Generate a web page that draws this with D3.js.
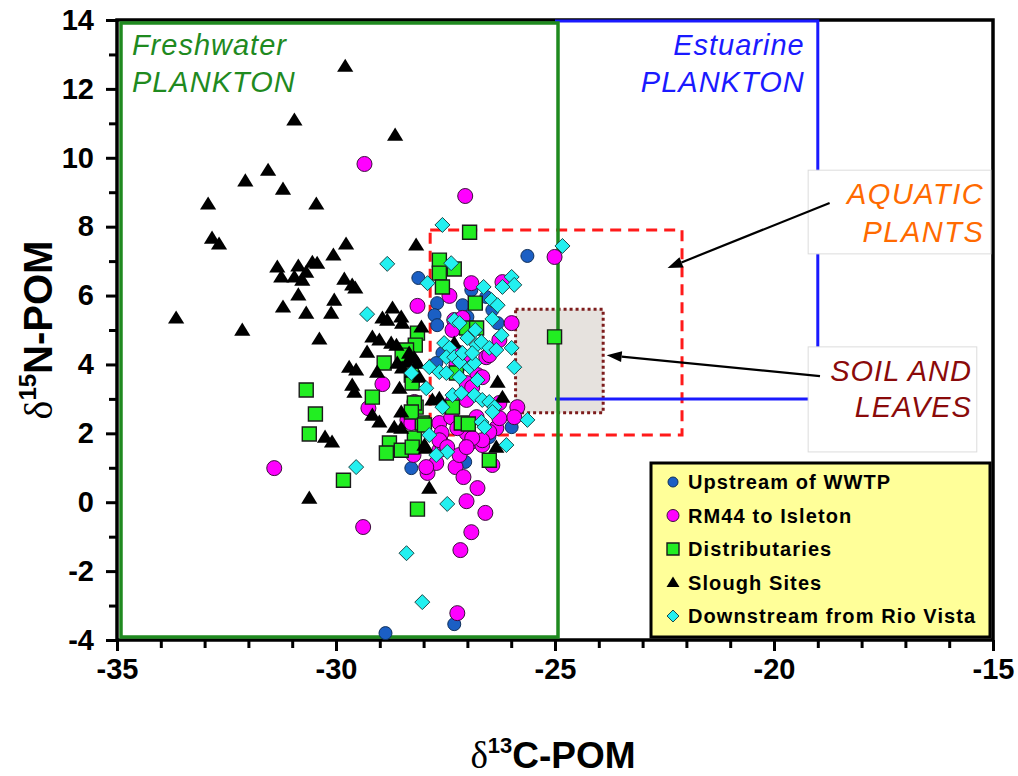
<!DOCTYPE html>
<html>
<head>
<meta charset="utf-8">
<script src="https://cdn.jsdelivr.net/npm/d3@7"></script>
<style>
  html, body { margin: 0; padding: 0; background: #ffffff; }
  svg { display: block; }
  text { font-family: "Liberation Sans", Arial, sans-serif; }
</style>
</head>
<body>
<svg id="chart" width="1018" height="776"></svg>
<script>
// Stable isotope signatures of particulate organic matter (d13C, d15N)

const seriesNames = ["Upstream of WWTP", "RM44 to Isleton", "Distributaries", "Slough Sites", "Downstream from Rio Vista"];

const upstreamWWTP = [
  [-25.63, 7.15], [-26.91, 6.16], [-27.11, 5.72], [-26.57, 5.96], [-26.43, 5.58],
  [-27.00, 5.38], [-28.12, 6.51], [-27.69, 5.78], [-27.75, 5.43], [-27.69, 5.14],
  [-27.57, 4.33], [-27.71, 4.04], [-26.50, 1.89], [-25.99, 2.18], [-26.31, 5.20],
  [-28.28, 0.99], [-27.05, 1.17], [-27.30, -3.54], [-28.87, -3.80]
];

const rm44Isleton = [
  [-29.35, 9.82], [-27.05, 8.89], [-25.01, 7.12], [-31.41, 0.99], [-27.91, 0.85],
  [-27.27, 1.02], [-27.09, 0.73], [-26.77, 0.41], [-27.02, 0.03], [-26.59, -0.31],
  [-29.38, -0.72], [-26.91, -0.87], [-27.16, -1.39], [-27.23, -3.22], [-28.23, 1.37],
  [-27.64, 1.51], [-27.59, 1.72], [-26.95, 1.72], [-26.66, 1.66], [-26.43, 1.08],
  [-28.14, 5.70], [-26.91, 6.36], [-27.41, 5.99], [-26.20, 6.39], [-25.99, 5.20],
  [-27.27, 5.09], [-26.57, 4.21], [-28.94, 3.43], [-29.26, 2.73], [-28.21, 2.91],
  [-26.77, 3.69], [-25.86, 2.76], [-25.93, 2.47], [-26.34, 2.15], [-28.37, 2.39],
  [-28.28, 2.30], [-27.64, 2.30], [-27.59, 2.01], [-27.02, 2.01], [-27.37, 2.47],
  [-26.79, 2.47], [-26.27, 2.44], [-26.66, 3.63], [-27.02, 3.46], [-26.89, 3.34],
  [-26.27, 2.88], [-26.50, 2.04], [-26.66, 1.80], [-26.89, 1.86], [-27.64, 1.80],
  [-27.46, 1.60], [-27.23, 2.15], [-27.18, 1.37], [-27.02, 1.60], [-27.71, 1.14],
  [-27.94, 1.02], [-27.25, 3.98], [-27.00, 4.04], [-27.18, 4.33], [-27.34, 2.91],
  [-27.02, 2.97], [-26.27, 4.71], [-26.50, 4.27], [-27.30, 5.29], [-27.11, 5.35],
  [-27.34, 5.00]
];

const distributaries = [
  [-26.95, 7.84], [-27.64, 7.03], [-27.30, 6.77], [-27.64, 6.65], [-27.57, 6.25],
  [-26.82, 5.78], [-28.14, 4.91], [-28.19, 4.56], [-28.39, 4.42], [-28.49, 4.27],
  [-28.90, 4.04], [-28.28, 3.69], [-28.26, 3.46], [-27.02, 5.06], [-26.79, 5.06],
  [-27.25, 3.75], [-29.17, 3.05], [-28.17, 2.76], [-27.34, 2.76], [-27.14, 2.30],
  [-26.98, 2.27], [-28.03, 2.30], [-28.78, 1.72], [-28.51, 1.51], [-28.85, 1.43],
  [-28.21, 1.86], [-28.26, 1.60], [-25.01, 4.80], [-26.50, 1.22], [-28.21, 2.88],
  [-28.28, 2.62], [-27.98, 2.24], [-30.68, 3.26], [-30.47, 2.56], [-30.61, 1.98],
  [-29.83, 0.64], [-28.14, -0.20]
];

const sloughSites = [
  [-31.55, 9.64], [-32.07, 9.33], [-31.21, 9.09], [-32.92, 8.66], [-30.45, 8.66],
  [-32.83, 7.67], [-32.67, 7.50], [-29.77, 7.50], [-30.06, 7.18], [-31.34, 6.83],
  [-30.86, 6.86], [-30.54, 6.97], [-30.43, 6.94], [-31.25, 6.54], [-30.95, 6.54],
  [-30.77, 6.45], [-30.68, 6.68], [-29.81, 6.48], [-30.86, 6.02], [-30.04, 5.87],
  [-31.21, 5.67], [-30.68, 5.49], [-30.11, 5.49], [-33.65, 5.35], [-32.14, 5.00],
  [-30.38, 4.74], [-29.79, 12.66], [-30.95, 11.10], [-28.65, 10.66], [-28.17, 7.47],
  [-29.63, 6.31], [-29.56, 6.22], [-28.71, 5.64], [-28.94, 5.35], [-28.83, 5.29],
  [-28.51, 5.38], [-28.49, 5.20], [-29.17, 4.80], [-29.01, 4.71], [-29.29, 4.36],
  [-28.74, 4.62], [-28.62, 4.56], [-28.05, 5.09], [-28.33, 4.33], [-28.21, 4.19],
  [-28.37, 4.07], [-28.14, 4.04], [-29.70, 3.92], [-29.54, 3.84], [-28.60, 4.04],
  [-28.49, 3.90], [-29.06, 3.78], [-28.26, 3.78], [-28.10, 3.63], [-27.30, 4.62],
  [-29.63, 3.40], [-29.58, 3.20], [-28.55, 3.31], [-26.31, 3.49], [-26.20, 3.05],
  [-27.64, 3.02], [-27.80, 2.97], [-29.17, 2.53], [-29.01, 2.33], [-28.51, 2.62],
  [-28.67, 2.18], [-28.51, 2.15], [-27.98, 1.66], [-30.09, 1.75], [-26.34, 1.60],
  [-30.25, 1.89], [-27.94, 1.57], [-27.87, 0.41], [-30.61, 0.12]
];

const downstreamRioVista = [
  [-27.57, 8.05], [-24.83, 7.44], [-28.83, 6.92], [-27.37, 6.94], [-27.91, 6.36],
  [-26.63, 6.25], [-25.99, 6.54], [-25.93, 6.31], [-26.20, 6.25], [-26.45, 5.87],
  [-26.31, 5.72], [-26.43, 5.32], [-29.29, 5.46], [-27.30, 5.29], [-27.18, 5.20],
  [-26.82, 5.00], [-26.22, 4.85], [-27.00, 4.77], [-27.53, 4.62], [-27.41, 4.48],
  [-26.79, 4.56], [-26.68, 4.65], [-26.50, 4.48], [-26.34, 4.42], [-25.99, 4.48],
  [-25.93, 3.92], [-27.87, 3.92], [-27.48, 4.21], [-27.30, 4.21], [-27.18, 4.07],
  [-27.64, 3.78], [-27.48, 3.75], [-27.18, 3.63], [-26.95, 3.92], [-26.84, 4.04],
  [-28.28, 3.75], [-27.94, 3.31], [-26.77, 3.55], [-27.34, 3.11], [-27.14, 3.17],
  [-26.84, 3.11], [-26.66, 2.97], [-26.50, 2.91], [-26.38, 2.76], [-26.43, 2.62],
  [-27.57, 2.76], [-25.63, 2.39], [-26.68, 2.33], [-27.87, 1.95], [-26.11, 1.66],
  [-27.46, 1.46], [-27.71, 1.37], [-29.54, 1.02], [-27.46, -0.05], [-28.39, -1.48],
  [-28.03, -2.90], [-27.11, 4.33], [-26.89, 4.33], [-26.61, 2.18]
];

// Axis ranges and labelled ticks
const xDomain = [-35, -15];
const yDomain = [-4, 14];
const xTickLabels = [-35, -30, -25, -20, -15];
const yTickLabels = [-4, -2, 0, 2, 4, 6, 8, 10, 12, 14];

// End-member source boxes (d13C range, d15N range)
const freshwaterBox = { x: [-35, -25], y: [-4, 14] };
const estuarineBox = { x: [-25, -19], y: [3, 14] };
const aquaticBox = { x: [-27.85, -22.1], y: [1.95, 7.9] };
const soilBox = { x: [-25.9, -23.9], y: [2.6, 5.6] };

const svg = d3.select("#chart");
const L = 117, R = 993, T = 20, B = 640;
const x = d3.scaleLinear().domain(xDomain).range([L, R]);
const y = d3.scaleLinear().domain(yDomain).range([B, T]);

// Soil and leaves: grey fill with dotted maroon border
svg.append("rect")
  .attr("x", x(soilBox.x[0])).attr("y", y(soilBox.y[1]))
  .attr("width", x(soilBox.x[1]) - x(soilBox.x[0]))
  .attr("height", y(soilBox.y[0]) - y(soilBox.y[1]))
  .attr("fill", "#e6e2de").attr("stroke", "#7d1c1c")
  .attr("stroke-width", 3).attr("stroke-dasharray", "3,3");

// Aquatic plants: red dashed outline
svg.append("rect")
  .attr("x", x(aquaticBox.x[0])).attr("y", y(aquaticBox.y[1]))
  .attr("width", x(aquaticBox.x[1]) - x(aquaticBox.x[0]))
  .attr("height", y(aquaticBox.y[0]) - y(aquaticBox.y[1]))
  .attr("fill", "none").attr("stroke", "#ff1a1a")
  .attr("stroke-width", 3).attr("stroke-dasharray", "11,7");

// Plot frame and axes
svg.append("rect")
  .attr("x", L).attr("y", T).attr("width", R - L).attr("height", B - T)
  .attr("fill", "none").attr("stroke", "#000").attr("stroke-width", 3.5);

const xAxis = d3.axisBottom(x)
  .tickValues(d3.range(xDomain[0], xDomain[1] + 1, 1))
  .tickSize(8).tickPadding(10)
  .tickFormat(d => xTickLabels.includes(d) ? d : "");
const gx = svg.append("g").attr("transform", `translate(0,${B})`).call(xAxis);

const yAxis = d3.axisLeft(y)
  .tickValues(d3.range(yDomain[0], yDomain[1] + 1, 1))
  .tickSize(8).tickPadding(15)
  .tickFormat(d => yTickLabels.includes(d) ? d : "");
const gy = svg.append("g").attr("transform", `translate(${L},0)`).call(yAxis);

[gx, gy].forEach(g => {
  g.select(".domain").remove();
  g.selectAll(".tick line").attr("stroke", "#000").attr("stroke-width", 3);
  g.selectAll(".tick text")
    .attr("fill", "#000")
    .style("font-family", "'Liberation Sans', Arial, sans-serif")
    .style("font-weight", "bold").style("font-size", "29px");
});
gx.selectAll(".tick line").attr("y2", d => d % 5 === 0 ? 11 : 8);
gy.selectAll(".tick line").attr("x2", d => d % 2 === 0 ? -11 : -8);

// Estuarine plankton box (left side is shared with the freshwater box)
const blue = "#1a1aff";
svg.append("path")
  .attr("d", `M${x(estuarineBox.x[0])},${y(estuarineBox.y[1]) + 1}` +
             `H${x(estuarineBox.x[1])}V${y(estuarineBox.y[0])}H${x(estuarineBox.x[0])}`)
  .attr("fill", "none").attr("stroke", blue).attr("stroke-width", 3);

// Freshwater plankton box
const green = "#1f8a1f";
svg.append("rect")
  .attr("x", x(freshwaterBox.x[0]) + 4).attr("y", y(freshwaterBox.y[1]) + 3)
  .attr("width", x(freshwaterBox.x[1]) - x(freshwaterBox.x[0]) - 1)
  .attr("height", y(freshwaterBox.y[0]) - y(freshwaterBox.y[1]) - 6)
  .attr("fill", "none").attr("stroke", green).attr("stroke-width", 3.5);

// Marker shapes
const shapes = {
  circleS: r => `M${-r},0a${r},${r} 0 1,0 ${2 * r},0a${r},${r} 0 1,0 ${-2 * r},0Z`,
  square: s => `M${-s},${-s}H${s}V${s}H${-s}Z`,
  triangle: s => `M0,${-s}L${s * 1.08},${s * 0.75}H${-s * 1.08}Z`,
  diamond: s => `M0,${-s}L${s},0L0,${s}L${-s},0Z`
};

const styles = [
  { data: upstreamWWTP, path: shapes.circleS(6.5), fill: "#1b5fc4", stroke: "#10305a", sw: 1,
    legend: shapes.circleS(5) },
  { data: rm44Isleton, path: shapes.circleS(7.5), fill: "#ff00ff", stroke: "#3a103a", sw: 1,
    legend: shapes.circleS(6) },
  { data: distributaries, path: shapes.square(7), fill: "#22ee22", stroke: "#1b1b1b", sw: 1.4,
    legend: shapes.square(6) },
  { data: sloughSites, path: shapes.triangle(7.5), fill: "#000000", stroke: "none", sw: 0,
    legend: shapes.triangle(6) },
  { data: downstreamRioVista, path: shapes.diamond(7.5), fill: "#22f0f0", stroke: "#1d4a4a", sw: 1,
    legend: shapes.diamond(6) }
];

styles.forEach(s => {
  svg.append("g").selectAll("path").data(s.data).join("path")
    .attr("d", s.path)
    .attr("transform", d => `translate(${x(d[0])},${y(d[1])})`)
    .attr("fill", s.fill).attr("stroke", s.stroke).attr("stroke-width", s.sw);
});

// Source labels
function label(lines, xv, anchor, color, size, spacing) {
  lines.forEach(l => {
    svg.append("text")
      .attr("x", x(xv)).attr("y", y(l.y))
      .attr("text-anchor", anchor)
      .attr("fill", color)
      .style("font-style", "italic").style("font-size", size + "px")
      .style("letter-spacing", spacing + "px")
      .text(l.t);
  });
}
label([{ t: "Freshwater", y: 12.98 }, { t: "PLANKTON", y: 11.91 }], -34.66, "start", green, 29, 1);
label([{ t: "Estuarine", y: 12.98 }, { t: "PLANKTON", y: 11.91 }], -19.3, "end", blue, 29, 1);

// Callout boxes
function callout(box) {
  svg.append("rect")
    .attr("x", x(box.x[0])).attr("y", y(box.y[1]))
    .attr("width", x(box.x[1]) - x(box.x[0]))
    .attr("height", y(box.y[0]) - y(box.y[1]))
    .attr("fill", "#ffffff").attr("stroke", "#dcdcdc").attr("stroke-width", 1);
}
callout({ x: [-19.22, -15.05], y: [7.21, 9.64] });
callout({ x: [-19.22, -15.37], y: [1.46, 4.51] });
label([{ t: "AQUATIC", y: 8.66 }, { t: "PLANTS", y: 7.55 }], -15.2, "end", "#ff6a00", 29, 1.5);
label([{ t: "SOIL AND", y: 3.52 }, { t: "LEAVES", y: 2.47 }], -15.48, "end", "#8a0a0a", 29, 1);

// Arrows pointing from the callouts to the boxes
function arrow(from, to) {
  const x1 = x(from[0]), y1 = y(from[1]), x2 = x(to[0]), y2 = y(to[1]);
  const a = Math.atan2(y2 - y1, x2 - x1);
  const len = 15, half = 5.5;
  const bx = x2 - len * Math.cos(a), by = y2 - len * Math.sin(a);
  svg.append("line").attr("x1", x1).attr("y1", y1).attr("x2", bx).attr("y2", by)
    .attr("stroke", "#000").attr("stroke-width", 2.2);
  svg.append("path")
    .attr("d", `M${x2},${y2}L${bx + half * Math.sin(a)},${by - half * Math.cos(a)}` +
               `L${bx - half * Math.sin(a)},${by + half * Math.cos(a)}Z`)
    .attr("fill", "#000");
}
arrow([-18.73, 8.69], [-22.43, 6.80]);
arrow([-18.95, 3.66], [-23.82, 4.27]);

// Legend
const lg = svg.append("g").attr("transform", "translate(651,463)");
lg.append("rect").attr("width", 339).attr("height", 174)
  .attr("fill", "#ffff99").attr("stroke", "#000").attr("stroke-width", 3);
styles.forEach((s, i) => {
  const cy = 19 + i * 33.5;
  lg.append("path").attr("d", s.legend)
    .attr("transform", `translate(22,${cy})`)
    .attr("fill", s.fill).attr("stroke", s.stroke).attr("stroke-width", s.sw);
  lg.append("text").attr("x", 37).attr("y", cy + 7)
    .style("font-weight", "bold").style("font-size", "20px")
    .style("letter-spacing", "1.1px")
    .text(seriesNames[i]);
});

// Axis titles
const xt = svg.append("text")
  .attr("x", (L + R) / 2 - 2).attr("y", 768)
  .attr("text-anchor", "middle")
  .style("font-family", "'Liberation Sans Narrow', 'Liberation Sans', Arial, sans-serif")
  .style("font-weight", "bold").style("font-size", "37px");
xt.append("tspan").style("font-family", "'Liberation Serif', serif").style("font-weight", "normal").text("δ");
xt.append("tspan").attr("dy", -15).style("font-size", "22px").text("13");
xt.append("tspan").attr("dy", 15).text("C-POM");

const yt = svg.append("text")
  .attr("transform", `translate(52,${(T + B) / 2}) rotate(-90)`)
  .attr("text-anchor", "middle")
  .style("font-family", "'Liberation Sans Narrow', 'Liberation Sans', Arial, sans-serif")
  .style("font-weight", "bold").style("font-size", "40px");
yt.append("tspan").style("font-family", "'Liberation Serif', serif").style("font-weight", "normal").text("δ");
yt.append("tspan").attr("dy", -16).style("font-size", "24px").text("15");
yt.append("tspan").attr("dy", 16).text("N-POM");
</script>
</body>
</html>
